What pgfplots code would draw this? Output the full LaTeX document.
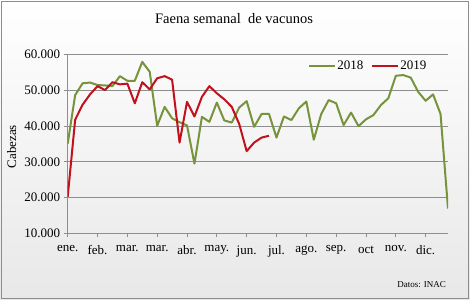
\documentclass[border=0pt]{standalone}
\usepackage{pgfplots}
\pgfplotsset{compat=1.18}
\usepackage{fontspec}
\setmainfont{Liberation Serif}
\definecolor{g18}{HTML}{77933C}
\definecolor{r19}{HTML}{C0111C}
\definecolor{gridc}{HTML}{8E8E8E}
\begin{document}
\begin{tikzpicture}
\path[use as bounding box] (0bp,0bp) rectangle (470bp,-300bp);
\shade[top color=white, bottom color=black!9] (0bp,0bp) rectangle (470bp,-300bp);
\draw[color=black!45, line width=1bp] (1bp,-1bp) rectangle (468bp,-298bp);
\node[font=\fontsize{14.5bp}{17bp}\selectfont] at (234bp,-19bp) {Faena semanal\ \ de vacunos};
\node[font=\fontsize{13bp}{15bp}\selectfont, rotate=90] at (11.7bp,-146.7bp) {Cabezas};
\node[font=\fontsize{9bp}{11bp}\selectfont, anchor=east] at (449.5bp,-285bp) {Datos: INAC};
\begin{axis}[
  at={(67.7bp,-233.3bp)}, anchor=south west,
  scale only axis, width=380.3bp, height=178.6bp,
  xmin=0, xmax=51, ymin=10, ymax=60,
  axis x line*=bottom, axis y line*=left,
  axis line style={color=gridc, line width=0.9bp},
  xtick={0,4,...,48},
  xticklabels={ene.,feb.,mar.,mar.,abr.,may.,jun.,jul.,ago.,sep.,oct,nov.,dic.},
  ytick={10,20,...,60},
  yticklabels={10.000,20.000,30.000,40.000,50.000,60.000},
  ymajorgrids, major grid style={color=gridc, line width=0.9bp},
  tick align=outside, major tick length=4bp,
  tick style={color=gridc, line width=0.8bp},
  ticklabel style={font=\fontsize{13bp}{15bp}\selectfont},
  xticklabel style={yshift=-5bp},
  legend style={at={(rel axis cs:0.632,0.937)}, anchor=west, draw=none, fill=none,
    inner sep=0bp, nodes={inner sep=1bp},
    font=\fontsize{13bp}{15bp}\selectfont, legend columns=2,
    /tikz/every even column/.append style={column sep=7bp}},
  legend image code/.code={\draw[#1] (0bp,0bp) -- (26bp,0bp);},
]
\addplot[color=g18, line width=2bp, line join=round] coordinates {
(0,35.1) (1,48.7) (2,52.0) (3,52.2) (4,51.5) (5,51.4) (6,51.2) (7,54.0)
(8,52.7) (9,52.7) (10,58.0) (11,55.2) (12,40.1) (13,45.4) (14,42.2) (15,41.1)
(16,40.2) (17,29.5) (18,42.6) (19,41.2) (20,46.6) (21,41.6) (22,41.0) (23,45.2)
(24,47.0) (25,39.8) (26,43.4) (27,43.4) (28,36.8) (29,42.7) (30,41.7) (31,45.0)
(32,46.9) (33,36.2) (34,43.4) (35,47.3) (36,46.4) (37,40.3) (38,43.8) (39,40.0)
(40,41.9) (41,43.1) (42,45.9) (43,47.8) (44,54.1) (45,54.3) (46,53.6) (47,49.6)
(48,47.1) (49,48.9) (50,43.4) (51,16.9)
};
\addlegendentry{2018}
\addplot[color=r19, line width=2bp, line join=round] coordinates {
(0,20.2) (1,41.8) (2,46.0) (3,48.9) (4,51.2) (5,50.1) (6,52.3) (7,51.7)
(8,51.9) (9,46.4) (10,52.3) (11,50.3) (12,53.4) (13,54.0) (14,53.0) (15,35.4)
(16,46.8) (17,42.7) (18,48.2) (19,51.2) (20,49.2) (21,47.5) (22,45.4) (23,40.6)
(24,33.0) (25,35.4) (26,36.8) (27,37.3)
};
\addlegendentry{2019}
\end{axis}
\end{tikzpicture}
\end{document}
